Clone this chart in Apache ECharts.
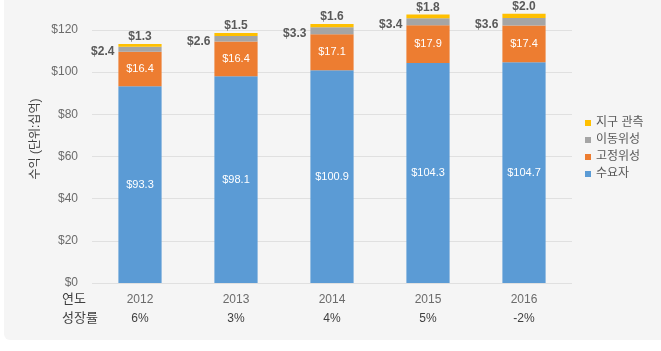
<!DOCTYPE html>
<html>
<head>
<meta charset="utf-8">
<script src="https://cdn.jsdelivr.net/npm/echarts@6/dist/echarts.min.js"></script>
<style>
  html, body { margin: 0; padding: 0; background: #fff; }
  #wrap { position: absolute; left: 4px; top: 0; width: 657px; height: 340px; background: #f5f5f5; border-radius: 0 0 0 6px; }
  #chart { position: absolute; left: 0; top: 0; width: 661px; height: 351px; }
</style>
</head>
<body>
<div id="wrap"></div>
<div id="chart"></div>
<script>
const years = ['2012', '2013', '2014', '2015', '2016']
const growth = ['6%', '3%', '4%', '5%', '-2%']
const demand = [93.3, 98.1, 100.9, 104.3, 104.7]
const fixedSat = [16.4, 16.4, 17.1, 17.9, 17.4]
const mobileSat = [2.4, 2.6, 3.3, 3.4, 3.6]
const earthObs = [1.3, 1.5, 1.6, 1.8, 2.0]
const yTicks = [0, 20, 40, 60, 80, 100, 120]

const font = "'Liberation Sans', 'Noto Sans CJK KR', sans-serif"
const money = ({ value }) => '$' + value.toFixed(1)

const chart = echarts.init(document.getElementById('chart'))

const insideLabel = {
  show: true,
  position: 'inside',
  color: '#fff',
  fontSize: 11,
  fontFamily: font,
  formatter: money,
}

chart.setOption({
  animation: false,
  textStyle: { fontFamily: font },
  grid: { left: 92, right: 89, top: 30, bottom: 68 },
  legend: {
    orient: 'vertical',
    left: 580,
    top: 112,
    icon: 'rect',
    itemWidth: 6,
    itemHeight: 6,
    itemGap: 5,
    textStyle: { fontSize: 12, color: '#595959', fontFamily: font },
    data: ['지구 관측', '이동위성', '고정위성', '수요자'],
  },
  xAxis: {
    type: 'category',
    data: years,
    axisLine: { show: false },
    axisTick: { show: false },
    axisLabel: {
      margin: 7,
      formatter: (v, i) => '{y|' + v + '}\n{g|' + growth[i] + '}',
      rich: {
        y: { fontSize: 12, color: '#6b6b6b', lineHeight: 19, fontFamily: font },
        g: { fontSize: 12, color: '#404040', lineHeight: 19, fontFamily: font },
      },
    },
  },
  yAxis: {
    type: 'value',
    min: yTicks[0],
    max: yTicks[yTicks.length - 1],
    interval: 20,
    axisLabel: { formatter: v => '$' + v, fontSize: 12, color: '#6b6b6b', margin: 14 },
    axisLine: { show: false },
    axisTick: { show: false },
    splitLine: { lineStyle: { color: '#e0e0e0' } },
  },
  series: [
    {
      name: '수요자',
      type: 'bar',
      stack: 'total',
      barWidth: '45%',
      clip: false,
      itemStyle: { color: '#5b9bd5' },
      label: insideLabel,
      data: demand,
    },
    {
      name: '고정위성',
      type: 'bar',
      stack: 'total',
      clip: false,
      itemStyle: { color: '#ed7d31' },
      label: insideLabel,
      data: fixedSat,
    },
    {
      name: '이동위성',
      type: 'bar',
      stack: 'total',
      clip: false,
      itemStyle: { color: '#a5a5a5' },
      label: {
        show: true,
        position: 'left',
        distance: 4,
        offset: [0, 3],
        color: '#595959',
        fontSize: 12,
        fontWeight: 'bold',
        formatter: money,
      },
      data: mobileSat,
    },
    {
      name: '지구 관측',
      type: 'bar',
      stack: 'total',
      clip: false,
      itemStyle: { color: '#ffc000' },
      label: {
        show: true,
        position: 'top',
        distance: 1,
        color: '#595959',
        fontSize: 12,
        fontWeight: 'bold',
        formatter: money,
      },
      data: earthObs,
    },
  ],
  graphic: [
    {
      type: 'text',
      x: 36,
      y: 139,
      rotation: Math.PI / 2,
      style: {
        text: '수익 (단위:십억)',
        fill: '#404040',
        fontSize: 12,
        align: 'center',
        verticalAlign: 'middle',
        fontFamily: font,
      },
    },
    {
      type: 'text',
      left: 62,
      top: 290,
      style: {
        text: '연도\n성장률',
        fill: '#404040',
        fontSize: 13,
        lineHeight: 19,
        align: 'center',
        fontFamily: font,
      },
    },
  ],
})
</script>
</body>
</html>
